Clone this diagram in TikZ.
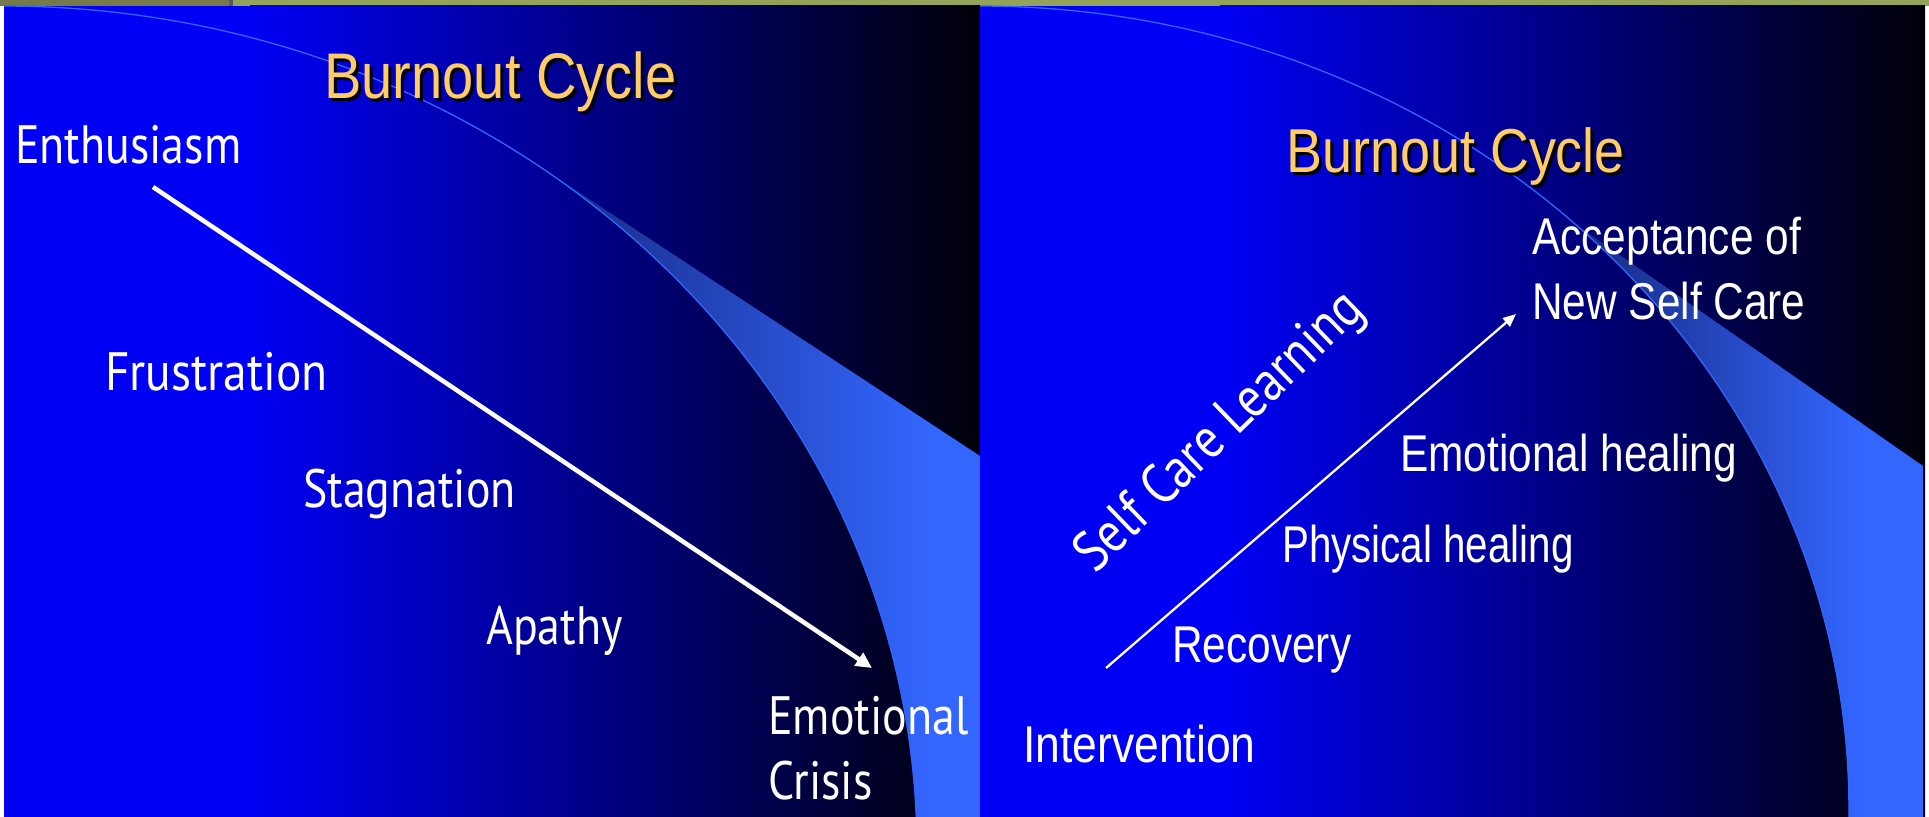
\documentclass[tikz,border=0pt]{standalone}
\usepackage{fontspec}
\setmainfont{Liberation Sans}
\newfontfamily\hfont[FakeStretch=0.85]{PT Sans}
\newfontfamily\nfont[FakeStretch=0.82]{Liberation Sans}
\newfontfamily\tfont[FakeStretch=0.87]{Liberation Sans}
\usetikzlibrary{arrows.meta}
\definecolor{olivedk}{RGB}{118,122,72}
\definecolor{olivelt}{RGB}{148,163,90}
\definecolor{slideblue}{RGB}{0,0,245}
\definecolor{slideblack}{RGB}{0,0,8}
\definecolor{band}{RGB}{51,102,255}
\definecolor{banddk}{RGB}{22,40,125}
\definecolor{titlecol}{RGB}{255,204,102}
\newcommand\shadowtext[1]{\leavevmode\rlap{\kern3bp\raisebox{-3bp}{\color{black}#1}}#1}
\tikzset{
  lefttext/.style={anchor=base west, inner sep=0pt, text=white, align=left,
    font=\hfont\fontsize{54bp}{65bp}\selectfont},
  righttext/.style={anchor=base west, inner sep=0pt, text=white, align=left,
    font=\nfont\fontsize{51.7bp}{65bp}\selectfont},
  titletext/.style={anchor=base west, inner sep=0pt, text=titlecol},
  arcline/.style={draw=band, line width=1.3bp},
}
\begin{document}
\begin{tikzpicture}[x=1bp,y=-1bp]
\useasboundingbox (0,0) rectangle (1929,817);
% top strip and margins
\fill[white] (0,0) rectangle (1929,817);
\fill[olivedk] (0,0) rectangle (229,6);
\fill[black!65] (229,0) rectangle (233,6);
\fill[olivelt] (233,0) rectangle (1929,6);

% ---------- left slide ----------
\begin{scope}
\clip (4,6) rectangle (980,817);
\fill[slideblue] (4,6) rectangle (251,817);
\shade[left color=slideblue,right color=slideblack] (250,6) rectangle (980,817);
\begin{scope}
\clip plot[domain=54.8:1, samples=60] ({4+913*cos(\x)},{850-844*sin(\x)})
  -- (980,840) -- (980,456) -- cycle;
\shade[left color=banddk,right color=band] (530,140) rectangle (930,840);
\fill[band] (929,140) rectangle (981,840);
\end{scope}
\draw[arcline] plot[domain=90:1, samples=120] ({4+913*cos(\x)},{850-844*sin(\x)});
\end{scope}

% ---------- right slide ----------
\begin{scope}
\clip (980,6) rectangle (1925,817);
\fill[slideblue] (980,6) rectangle (1221,817);
\shade[left color=slideblue,right color=slideblack] (1220,6) rectangle (1925,817);
\begin{scope}
\clip plot[domain=46.8:-2, samples=60] ({980+869*cos(\x)},{809.5-803.5*sin(\x)})
  -- (1923,840) -- (1923,466) -- cycle;
\shade[left color=banddk,right color=band] (1575,200) rectangle (1860,840);
\fill[band] (1859,200) rectangle (1924,840);
\end{scope}
\draw[arcline] plot[domain=90:-2, samples=120] ({980+869*cos(\x)},{809.5-803.5*sin(\x)});
\fill[black] (1923,6) rectangle (1925,817);
\end{scope}

% ---------- left slide texts ----------
\node[titletext, font=\tfont\fontsize{64.5bp}{70bp}\selectfont] (t1) at (324,98) {\shadowtext{Burnout Cycle}};
\node[lefttext] (enth) at (15,163) {Enthusiasm};
\node[lefttext, font=\hfont\fontsize{54bp}{65bp}\addfontfeatures{FakeStretch=0.88}\selectfont] (frus) at (105,390) {Frustration};
\node[lefttext] (stag) at (303,507) {Stagnation};
\node[lefttext] (apat) at (486,644) {Apathy};
\node[lefttext] (crisis) at (768,799) {Emotional\\Crisis};
\coordinate (a1s) at (153,187);
\coordinate (a1e) at (872,668);
\draw[white, line width=4.5bp, -{Triangle[length=16bp,width=15bp]}] (a1s) -- (a1e);

% ---------- right slide texts ----------
\node[titletext, font=\tfont\fontsize{62bp}{70bp}\selectfont] (t2) at (1286,172) {\shadowtext{Burnout Cycle}};
\node[righttext] (accept) at (1532,319) {Acceptance of\\New Self Care};
\node[righttext] (emoh) at (1400,471) {Emotional healing};
\node[righttext, font=\nfont\fontsize{51.7bp}{65bp}\addfontfeatures{FakeStretch=0.78}\selectfont] (phys) at (1282,562) {Physical healing};
\node[righttext] (reco) at (1172,662) {Recovery};
\node[righttext, font=\nfont\fontsize{51.7bp}{65bp}\addfontfeatures{FakeStretch=0.86}\selectfont] (inter) at (1023,762) {Intervention};
\node[inner sep=0pt, text=white, rotate=44, font=\hfont\fontsize{57bp}{60bp}\selectfont] (scl) at (1221,433) {Self Care Learning};
\coordinate (a2s) at (1106,668);
\coordinate (a2e) at (1516,314);
\draw[white, line width=2.3bp, -{Triangle[length=13bp,width=11bp]}] (a2s) -- (a2e);
\end{tikzpicture}
\end{document}
